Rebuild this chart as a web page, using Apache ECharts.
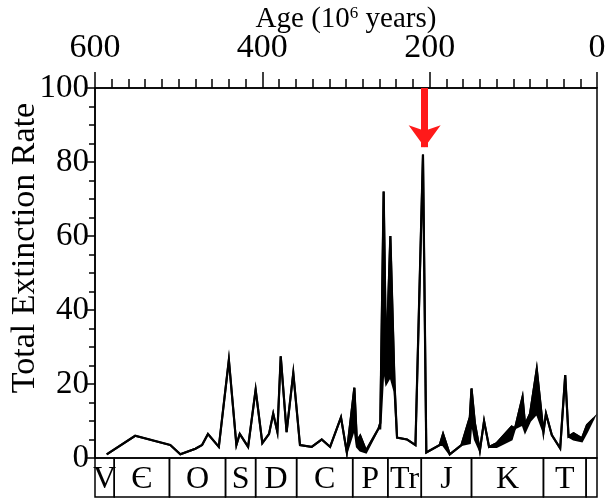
<!DOCTYPE html>
<html>
<head>
<meta charset="utf-8">
<script src="https://cdn.jsdelivr.net/npm/echarts@6/dist/echarts.min.js"></script>
<style>
  html, body { margin: 0; padding: 0; background: #fff; }
  #chart { width: 615px; height: 499px; }
</style>
</head>
<body>
<div id="chart"></div>
<script>
// ages in 10^6 years (older first); the curve is drawn as a thin band between
// an upper and a lower trace, both
var ages = [586, 552, 510, 498, 480, 472, 465, 452, 440, 431, 427, 417, 408, 400, 392, 387, 382, 378, 371, 363,
    355, 341, 329, 319, 306, 299, 290, 287, 283, 276, 261, 259, 255, 252, 247, 242, 239, 227, 217, 208,
    204, 188, 184, 176, 162, 152, 150, 146, 140, 135, 129, 120, 102, 98, 89, 86, 80, 72, 64, 61,
    54, 44, 38, 34, 28, 18, 12, 4];
var ratesHigh = [1, 6, 3.5, 1, 2.5, 3.5, 6.5, 3, 26.5, 3.5, 6.5, 3, 18.5, 4, 6.5, 12, 7, 27.5, 7, 23,
    3.5, 3, 5, 3, 11, 1.5, 19, 4.5, 6, 2, 8, 9.5, 72, 25, 60, 20, 5.5, 5, 3.5, 82,
    1.5, 3.5, 6.5, 1, 3.5, 11, 18.8, 9.5, 2, 10, 3, 4, 8.5, 8, 16.5, 9, 12, 24, 7, 12,
    6.2, 2.6, 22.4, 5.8, 6.7, 5.3, 8.9, 10.7];
var ratesLow = [1, 6, 3.5, 1, 2.5, 3.5, 6.5, 3, 26.5, 3.5, 6.5, 3, 18.5, 4, 6.5, 12, 7, 27.5, 7, 23,
    3.5, 3, 5, 3, 11, 1.5, 8, 3, 2, 1.5, 8, 8, 25, 20, 22, 18, 5.5, 5, 3.5, 82,
    1.5, 3.5, 3.5, 1, 3.5, 4, 10, 5, 2, 10, 3, 3, 5, 8, 9, 7, 10, 12, 7, 12,
    6.2, 2.6, 22.4, 5.8, 5, 4.5, 7, 10.7];

// geologic periods strip under the plot
var periodNames = ["V", "Є", "O", "S", "D", "C", "P", "Tr", "J", "K", "T", ""];
var periodStart = [600, 577, 511, 444, 408, 359, 292, 250, 210, 150, 64, 13];
var periodEnd = [577, 511, 444, 408, 359, 292, 250, 210, 150, 64, 13, 0];

// red arrow marking the end-Triassic peak
var arrowAge = 206;
var arrowFrom = 100;
var arrowTo = 84;

var chart = echarts.init(document.getElementById("chart"), null, { renderer: "canvas" });

var serif = "Liberation Serif, Times New Roman, serif";
var highData = ages.map(function (a, i) { return [a, ratesHigh[i]]; });
var bandData = ages.map(function (a, i) { return [a, ratesHigh[i], ratesLow[i]]; });
var periodData = periodNames.map(function (n, i) { return [periodStart[i], periodEnd[i], n]; });

var option = {
    animation: false,
    backgroundColor: "#fff",
    textStyle: { fontFamily: serif, color: "#000" },
    grid: [
        { left: 95, right: 18, top: 88, bottom: 41, show: true, borderColor: "#000", borderWidth: 1.5,
          containLabel: false, outerBoundsMode: "none" },
        { left: 95, right: 18, top: 458, height: 39, show: false, containLabel: false, outerBoundsMode: "none" }
    ],
    xAxis: [
        {
            gridIndex: 0,
            type: "value",
            position: "top",
            inverse: true,
            min: 0,
            max: 600,
            interval: 200,
            name: "Age (10{sup|6} years)",
            nameLocation: "middle",
            nameGap: 54,
            nameMoveOverlap: false,
            nameTextStyle: {
                fontFamily: serif, fontSize: 29, color: "#000",
                rich: { sup: { fontFamily: serif, fontSize: 17, verticalAlign: "top", padding: [0, 0, 12, 0] } }
            },
            axisLine: { onZero: false, lineStyle: { color: "#000", width: 1.5 } },
            axisTick: { show: true, length: 16, lineStyle: { color: "#000", width: 1.5 } },
            minorTick: { show: true, splitNumber: 10, length: 9, lineStyle: { color: "#000", width: 1.5 } },
            axisLabel: { fontFamily: serif, fontSize: 34, color: "#000", margin: 23 },
            splitLine: { show: false }
        },
        {
            gridIndex: 1,
            type: "value",
            inverse: true,
            min: 0,
            max: 600,
            show: false
        }
    ],
    yAxis: [
        {
            gridIndex: 0,
            type: "value",
            min: 0,
            max: 100,
            interval: 20,
            name: "Total Extinction Rate",
            nameLocation: "middle",
            nameGap: 53,
            nameMoveOverlap: false,
            nameTextStyle: { fontFamily: serif, fontSize: 34, color: "#000", padding: [0, 0, 0, 50] },
            axisLine: { show: true, onZero: false, lineStyle: { color: "#000", width: 1.5 } },
            axisTick: { show: true, length: 8, lineStyle: { color: "#000", width: 1.5 } },
            minorTick: { show: true, splitNumber: 4, length: 6, lineStyle: { color: "#000", width: 1.5 } },
            axisLabel: { fontFamily: serif, fontSize: 33, color: "#000", margin: 6 },
            splitLine: { show: false }
        },
        { gridIndex: 1, type: "value", min: 0, max: 1, show: false }
    ],
    series: [
        {
            // filled band between the two traces
            type: "custom",
            xAxisIndex: 0,
            yAxisIndex: 0,
            data: bandData,
            renderItem: function (params, api) {
                if (params.dataIndex !== 0) return null;
                var top = [], bottom = [];
                for (var i = 0; i < bandData.length; i++) {
                    top.push(api.coord([bandData[i][0], bandData[i][1]]));
                    bottom.unshift(api.coord([bandData[i][0], bandData[i][2]]));
                }
                return {
                    type: "polygon",
                    shape: { points: top.concat(bottom) },
                    style: { fill: "#000", stroke: "#000", lineWidth: 2, lineJoin: "miter" }
                };
            }
        },
        {
            type: "line",
            xAxisIndex: 0,
            yAxisIndex: 0,
            data: highData,
            showSymbol: false,
            symbol: "none",
            lineStyle: { color: "#000", width: 2.2, join: "miter" },
            markLine: {
                silent: true,
                symbol: ["none", "arrow"],
                symbolSize: [24, 22],
                label: { show: false },
                lineStyle: { color: "#ff1a1a", width: 7, type: "solid" },
                data: [[{ coord: [arrowAge, arrowFrom] }, { coord: [arrowAge, arrowTo] }]]
            }
        },
        {
            type: "custom",
            xAxisIndex: 1,
            yAxisIndex: 1,
            data: periodData,
            renderItem: function (params, api) {
                var p0 = api.coord([api.value(0), 1]);
                var p1 = api.coord([api.value(1), 0]);
                var x = Math.min(p0[0], p1[0]);
                var w = Math.abs(p1[0] - p0[0]);
                return {
                    type: "group",
                    children: [
                        {
                            type: "rect",
                            shape: { x: x, y: p0[1], width: w, height: p1[1] - p0[1] },
                            style: { fill: "none", stroke: "#000", lineWidth: 1.5 }
                        },
                        {
                            type: "text",
                            style: {
                                text: periodNames[params.dataIndex],
                                x: x + w / 2,
                                y: (p0[1] + p1[1]) / 2 + 2,
                                align: "center",
                                verticalAlign: "middle",
                                font: "32px " + serif,
                                fill: "#000"
                            }
                        }
                    ]
                };
            }
        }
    ]
};

chart.setOption(option);
</script>
</body>
</html>
